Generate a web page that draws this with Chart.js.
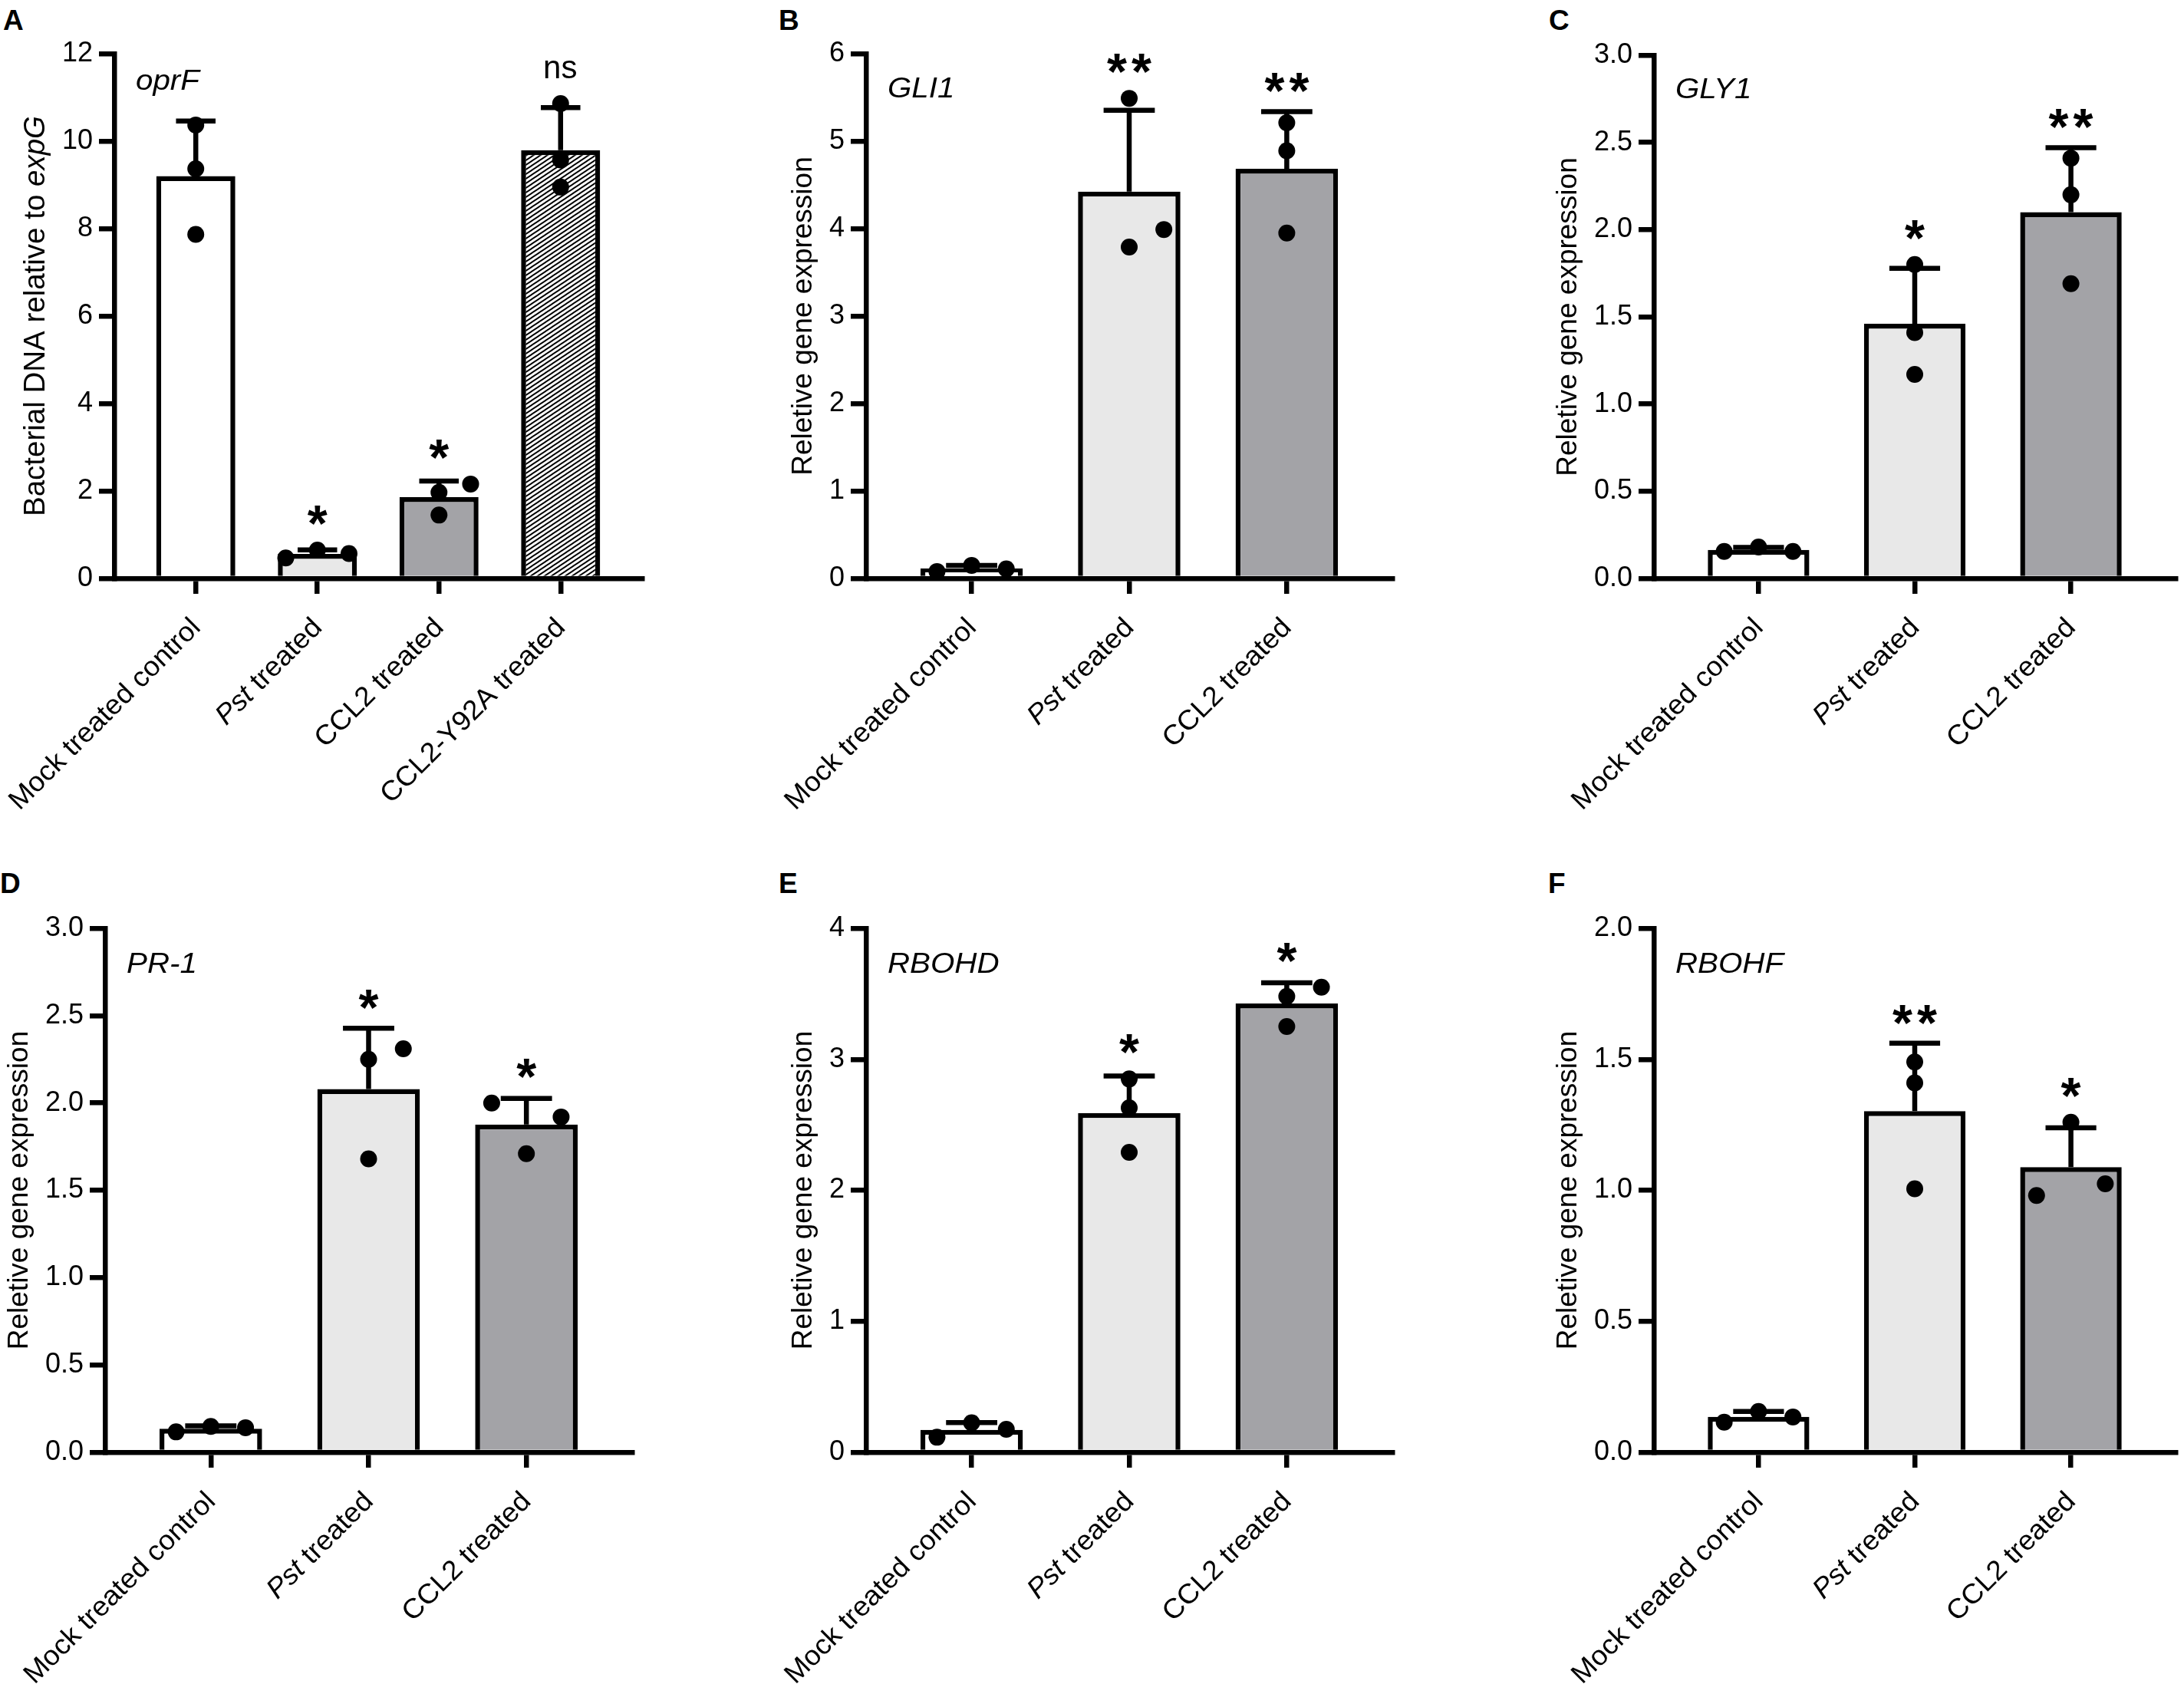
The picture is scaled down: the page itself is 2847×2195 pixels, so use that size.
<!DOCTYPE html>
<html>
<head>
<meta charset="utf-8">
<script src="https://cdn.jsdelivr.net/npm/chart.js@4.4.1/dist/chart.umd.min.js"></script>
<style>
  html, body { margin: 0; padding: 0; background: #fff; }
  body { width: 2847px; height: 2195px; position: relative; overflow: hidden; }
  canvas { position: absolute; }
  .tag { position: absolute; font: bold 37px "Liberation Sans", Arial, sans-serif; line-height: 1; color: #000; }
</style>
</head>
<body>
<div class="tag" style="left:4px;top:8px">A</div>
<div class="tag" style="left:1015px;top:8px">B</div>
<div class="tag" style="left:2019px;top:8px">C</div>
<div class="tag" style="left:0px;top:1133px">D</div>
<div class="tag" style="left:1015px;top:1133px">E</div>
<div class="tag" style="left:2018px;top:1133px">F</div>
<script>
const FONT = '"Liberation Sans", Arial, Helvetica, sans-serif';

// groups on the x axis
const groupsA = ['Mock treated control', 'Pst treated', 'CCL2 treated', 'CCL2-Y92A treated'];
const groups = ['Mock treated control', 'Pst treated', 'CCL2 treated'];
const italicWords = ['Pst'];

// replicate values (3 per group)
const oprF = [[10.37, 9.37, 7.87], [0.47, 0.65, 0.57], [1.97, 1.45, 2.16], [10.86, 9.57, 8.95]];
const gli1 = [[0.08, 0.15, 0.11], [5.49, 3.79, 3.99], [5.21, 4.89, 3.95]];
const gly1 = [[0.155, 0.18, 0.155], [1.80, 1.41, 1.17], [2.41, 2.20, 1.69]];
const pr1 = [[0.117, 0.148, 0.141], [2.25, 1.68, 2.31], [2.00, 1.92, 1.71]];
const rbohd = [[0.115, 0.225, 0.176], [2.85, 2.63, 2.29], [3.55, 3.48, 3.25]];
const rbohf = [[0.115, 0.156, 0.135], [1.49, 1.41, 1.006], [1.26, 0.98, 1.025]];

// which side each dot is pushed to (-1 left, 0 middle, 1 right)
const oprFSide = [[0, 0, 0], [-1, 0, 1], [0, 0, 1], [0, 0, 0]];
const gli1Side = [[-1, 0, 1], [0, 0, 1], [0, 0, 0]];
const gly1Side = [[-1, 0, 1], [0, 0, 0], [0, 0, 0]];
const pr1Side = [[-1, 0, 1], [0, 0, 1], [-1, 1, 0]];
const rbohdSide = [[-1, 0, 1], [0, 0, 0], [1, 0, 0]];
const rbohfSide = [[-1, 0, 1], [0, 0, 0], [0, -1, 1]];

// significance marks
const oprFSig = ['', '*', '*', 'ns'];
const gli1Sig = ['', '**', '**'];
const gly1Sig = ['', '*', '**'];
const pr1Sig = ['', '*', '*'];
const rbohdSig = ['', '*', '*'];
const rbohfSig = ['', '**', '*'];

// y tick labels
const oprFTicks = ['0', '2', '4', '6', '8', '10', '12'];
const gli1Ticks = ['0', '1', '2', '3', '4', '5', '6'];
const gly1Ticks = ['0.0', '0.5', '1.0', '1.5', '2.0', '2.5', '3.0'];
const pr1Ticks = ['0.0', '0.5', '1.0', '1.5', '2.0', '2.5', '3.0'];
const rbohdTicks = ['0', '1', '2', '3', '4'];
const rbohfTicks = ['0.0', '0.5', '1.0', '1.5', '2.0'];

const relTitle = [{ t: 'Reletive gene expression' }];

// diagonal hatching for the CCL2-Y92A bar
function hatch() {
  const c = document.createElement('canvas');
  c.width = 9; c.height = 6;
  const g = c.getContext('2d');
  g.fillStyle = '#fff';
  g.fillRect(0, 0, 9, 6);
  g.strokeStyle = '#000';
  g.lineWidth = 1.9;
  g.beginPath();
  for (let k = -1; k <= 1; k++) {
    g.moveTo(-9, 12 + k * 6);
    g.lineTo(18, -6 + k * 6);
  }
  g.stroke();
  return g.createPattern(c, 'repeat');
}

const fills = ['#ffffff', '#e8e8e8', '#a3a3a7', hatch()];

const panels = [
  { id: 'A', gene: 'oprF', cats: groupsA, reps: oprF, side: oprFSide, sig: oprFSig, ticks: oprFTicks,
    title: [{ t: 'Bacterial DNA relative to ' }, { t: 'expG', it: true }], titleSize: 38.5,
    box: [0, 0, 950, 1100], area: [149, 70, 837, 754], geneDy: 47, jit: 0.26 },
  { id: 'B', gene: 'GLI1', cats: groups, reps: gli1, side: gli1Side, sig: gli1Sig, ticks: gli1Ticks,
    title: relTitle, titleSize: 37, box: [950, 0, 950, 1100], area: [1129, 70, 1815, 754], geneDy: 57, jit: 0.22 },
  { id: 'C', gene: 'GLY1', cats: groups, reps: gly1, side: gly1Side, sig: gly1Sig, ticks: gly1Ticks,
    title: relTitle, titleSize: 37, box: [1900, 0, 947, 1100], area: [2156, 72, 2844, 754], geneDy: 56, jit: 0.22 },
  { id: 'D', gene: 'PR-1', cats: groups, reps: pr1, side: pr1Side, sig: pr1Sig, ticks: pr1Ticks,
    title: relTitle, titleSize: 37, box: [0, 1100, 950, 1095], area: [137, 1210, 824, 1893], geneDy: 58, jit: 0.22 },
  { id: 'E', gene: 'RBOHD', cats: groups, reps: rbohd, side: rbohdSide, sig: rbohdSig, ticks: rbohdTicks,
    title: relTitle, titleSize: 37, box: [950, 1100, 950, 1095], area: [1129, 1210, 1815, 1893], geneDy: 58, jit: 0.22 },
  { id: 'F', gene: 'RBOHF', cats: groups, reps: rbohf, side: rbohfSide, sig: rbohfSig, ticks: rbohfTicks,
    title: relTitle, titleSize: 37, box: [1900, 1100, 947, 1095], area: [2156, 1210, 2844, 1893], geneDy: 58, jit: 0.22 }
];

const PAD = 0.67;   // empty space at both ends of the x axis, in group widths
const LW = 6.5;     // line weight of axes, bars and error bars

const mean = a => a.reduce((s, v) => s + v, 0) / a.length;
const sd = a => {
  const m = mean(a);
  return Math.sqrt(a.reduce((s, v) => s + (v - m) * (v - m), 0) / (a.length - 1));
};

function splitLabel(label) {
  return label.split(/(\s+)/).filter(s => s.length).map(s => ({ t: s, it: italicWords.includes(s) }));
}

function drawRich(ctx, segs, size, x, y, angle, sx, align, baseline) {
  ctx.save();
  ctx.translate(x, y);
  ctx.rotate(angle);
  ctx.scale(sx, 1);
  ctx.textBaseline = baseline;
  ctx.textAlign = 'left';
  ctx.fillStyle = '#000';
  let w = 0;
  const widths = segs.map(s => {
    ctx.font = (s.it ? 'italic ' : '') + size + 'px ' + FONT;
    const sw = ctx.measureText(s.t).width;
    w += sw;
    return sw;
  });
  let cx = align === 'right' ? -w : (align === 'center' ? -w / 2 : 0);
  segs.forEach((s, i) => {
    ctx.font = (s.it ? 'italic ' : '') + size + 'px ' + FONT;
    ctx.fillText(s.t, cx, 0);
    cx += widths[i];
  });
  ctx.restore();
}

function extrasPlugin(p, means, sds) {
  return {
    id: 'extras' + p.id,
    afterDatasetDraw(chart, args) {
      if (args.index !== 0) return;
      // error bars (mean + SD) go over the bars and under the dots
      const ctx = chart.ctx, xs = chart.scales.x, ys = chart.scales.y;
      const bars = chart.getDatasetMeta(0).data;
      ctx.save();
      ctx.strokeStyle = '#000';
      ctx.lineWidth = LW;
      means.forEach((m, i) => {
        const x = xs.getPixelForValue(i);
        const y0 = ys.getPixelForValue(m);
        const y1 = ys.getPixelForValue(m + sds[i]);
        const half = bars[i].width / 4;
        ctx.beginPath();
        ctx.moveTo(x, y0); ctx.lineTo(x, y1);
        ctx.moveTo(x - half, y1); ctx.lineTo(x + half, y1);
        ctx.stroke();
      });
      ctx.restore();
    },
    afterDraw(chart) {
      const ctx = chart.ctx, xs = chart.scales.x, ys = chart.scales.y;
      const ca = chart.chartArea;

      // gene name
      drawRich(ctx, [{ t: p.gene, it: true }], 36, ca.left + 28, ca.top + p.geneDy, 0, 1.12, 'left', 'alphabetic');

      // y axis title
      ctx.font = '36px ' + FONT;
      const maxW = Math.max(...p.ticks.map(t => ctx.measureText(t).width));
      const tx = ca.left - 20 - 8 - maxW - 15 - 18.5;
      drawRich(ctx, p.title, p.titleSize, tx, (ca.top + ca.bottom) / 2, -Math.PI / 2, 1, 'center', 'middle');

      // rotated group labels
      p.cats.forEach((c, i) => {
        drawRich(ctx, splitLabel(c), 36, xs.getPixelForValue(i) - 12, ca.bottom + 46, -Math.PI / 4, 1.03, 'right', 'top');
      });

      // significance marks
      p.sig.forEach((s, i) => {
        if (!s) return;
        const x = xs.getPixelForValue(i);
        const top = Math.min(ys.getPixelForValue(means[i] + sds[i]) - LW / 2,
          ...p.reps[i].map(v => ys.getPixelForValue(v) - 11));
        const inkBottom = top - 22;
        ctx.save();
        ctx.fillStyle = '#000';
        ctx.textAlign = 'left';
        ctx.textBaseline = 'alphabetic';
        if (s === 'ns') {
          ctx.font = '42px ' + FONT;
          const mm = ctx.measureText(s);
          ctx.fillText(s, x - (mm.actualBoundingBoxRight - mm.actualBoundingBoxLeft) / 2, inkBottom - mm.actualBoundingBoxDescent);
        } else {
          ctx.font = 'bold 100px ' + FONT;
          const probe = ctx.measureText('*');
          const size = 100 * 26 / (probe.actualBoundingBoxRight + probe.actualBoundingBoxLeft);
          ctx.font = 'bold ' + size.toFixed(1) + 'px ' + FONT;
          const mm = ctx.measureText('*');
          const n = s.length;
          for (let k = 0; k < n; k++) {
            const cx = x + (k - (n - 1) / 2) * 32;
            ctx.fillText('*', cx - (mm.actualBoundingBoxRight - mm.actualBoundingBoxLeft) / 2, inkBottom - mm.actualBoundingBoxDescent);
          }
        }
        ctx.restore();
      });
    }
  };
}

function makePanel(p) {
  const [bx, by, bw, bh] = p.box;
  const [l, t, r, b] = p.area;
  const cv = document.createElement('canvas');
  cv.width = bw; cv.height = bh;
  cv.style.left = bx + 'px'; cv.style.top = by + 'px';
  cv.style.width = bw + 'px'; cv.style.height = bh + 'px';
  document.body.appendChild(cv);

  const YW = 100, XH = 150;
  const n = p.cats.length;
  const means = p.reps.map(mean);
  const sds = p.reps.map(sd);
  const yVals = p.ticks.map(Number);

  new Chart(cv, {
    type: 'bar',
    data: {
      datasets: [
        {
          type: 'bar',
          data: means.map((m, i) => ({ x: i, y: m })),
          backgroundColor: fills.slice(0, n),
          borderColor: '#000',
          borderWidth: LW,
          categoryPercentage: 1,
          barPercentage: 0.65,
          order: 2
        },
        {
          type: 'scatter',
          data: p.reps.flatMap((vals, i) => vals.map((v, k) => ({ x: i + p.side[i][k] * p.jit, y: v }))),
          pointRadius: 11,
          pointBackgroundColor: '#000',
          pointBorderWidth: 0,
          clip: false,
          order: 1
        }
      ]
    },
    options: {
      responsive: false,
      animation: false,
      devicePixelRatio: 1,
      layout: { padding: { left: l - bx - YW, top: t - by, right: bx + bw - r, bottom: by + bh - b - XH } },
      plugins: { legend: { display: false }, tooltip: { enabled: false } },
      scales: {
        x: {
          type: 'linear',
          min: -PAD,
          max: n - 1 + PAD,
          bounds: 'data',
          offset: false,
          afterBuildTicks: s => { s.ticks = p.cats.map((c, i) => ({ value: i })); },
          afterFit: s => { s.height = XH; },
          ticks: { display: false },
          grid: { offset: false, drawOnChartArea: false, color: '#000', lineWidth: LW, tickLength: 20 },
          border: { color: '#000', width: LW }
        },
        y: {
          min: yVals[0],
          max: yVals[yVals.length - 1],
          afterBuildTicks: s => { s.ticks = yVals.map(v => ({ value: v })); },
          afterFit: s => { s.width = YW; },
          ticks: {
            autoSkip: false,
            padding: 8,
            color: '#000',
            font: { family: FONT, size: 36 },
            callback: v => p.ticks[yVals.indexOf(v)]
          },
          grid: { drawOnChartArea: false, color: '#000', lineWidth: LW, tickLength: 20 },
          border: { color: '#000', width: LW }
        }
      }
    },
    plugins: [extrasPlugin(p, means, sds)]
  });
}

panels.forEach(makePanel);
</script>
</body>
</html>
